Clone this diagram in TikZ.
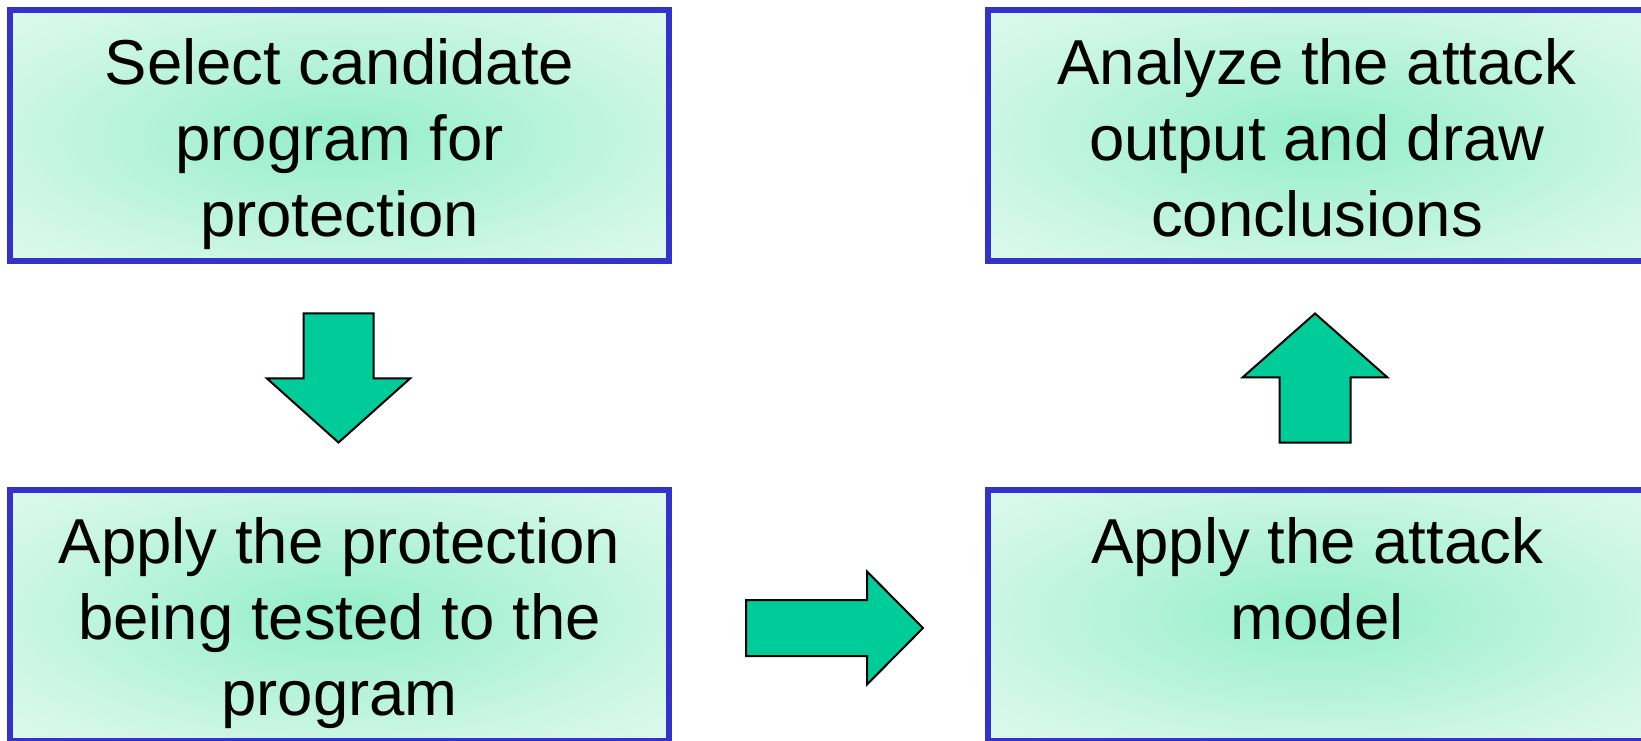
\documentclass[tikz,border=0pt]{standalone}
\usepackage{fontspec}
\setmainfont{Liberation Sans}
\usetikzlibrary{calc,positioning}

\definecolor{boxblue}{RGB}{51,51,204}
\definecolor{glowin}{RGB}{148,238,202}
\definecolor{glowedge}{RGB}{203,246,228}
\definecolor{glowcorner}{RGB}{222,250,238}
\definecolor{arrowgreen}{RGB}{0,204,153}

\pgfdeclareradialshading{boxglow}{\pgfpoint{0bp}{0bp}}{color(0bp)=(glowin); color(25bp)=(glowedge); color(36bp)=(glowcorner); color(50bp)=(glowcorner)}

\tikzset{
	flowbox/.style={draw=boxblue, line width=6pt, shading=boxglow, minimum width=659pt, minimum height=251pt, inner sep=0pt, outer sep=0pt},
	flowtext/.style={align=center, font=\fontsize{63.5}{76}\selectfont, anchor=north, inner sep=0pt},
	blockarrow/.style={draw=black, line width=2pt, fill=arrowgreen, line join=miter}
}

\begin{document}
\begin{tikzpicture}[x=1pt,y=1pt]
	\useasboundingbox (0,0) rectangle (1641,740);
	\clip (0,0) rectangle (1641,740);

	\node[flowbox] (select) at (339.5,604) {};
	\node[flowbox, below=228pt of select] (protect) {};
	\node[flowbox, right=318.5pt of select] (analyze) {};
	\node[flowbox, right=318.5pt of protect] (attack) {};

	\node[flowtext] (selecttext) at ($(select.north)+(0,-28)$) {Select candidate\\program for\\protection};
	\node[flowtext] (protecttext) at ($(protect.north)+(0,-28)$) {Apply the protection\\being tested to the\\program};
	\node[flowtext] (attacktext) at ($(attack.north)+(0,-28)$) {Apply the attack\\model};
	\node[flowtext] (analyzetext) at ($(analyze.north)+(0,-28)$) {Analyze the attack\\output and draw\\conclusions};

	\coordinate (downtail) at ($(select.south)+(-1,-52)$);
	\coordinate (righttail) at ($(protect.east)+(77,-13)$);
	\coordinate (uptail) at ($(attack.north)+(-2,47)$);

	\draw[blockarrow, shift={(downtail)}] (-35,0) -- (35,0) -- (35,-65) -- (71.5,-65) -- (0,-129) -- (-71.5,-65) -- (-35,-65) -- cycle;
	\draw[blockarrow, shift={(righttail)}] (0,-28) -- (121,-28) -- (121,-56.5) -- (177,0) -- (121,56.5) -- (121,28) -- (0,28) -- cycle;
	\draw[blockarrow, shift={(uptail)}] (-35.5,0) -- (35.5,0) -- (35.5,65) -- (72.5,65) -- (0,129) -- (-72.5,65) -- (-35.5,65) -- cycle;
\end{tikzpicture}
\end{document}
